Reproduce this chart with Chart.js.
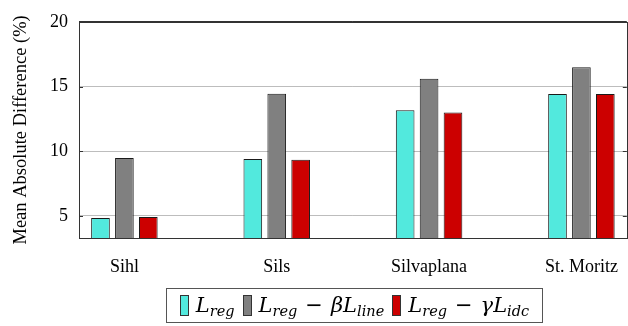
<!DOCTYPE html>
<html>
<head>
<meta charset="utf-8">
<script src="https://cdn.jsdelivr.net/npm/chart.js@4.4.1/dist/chart.umd.min.js"></script>
<style>
  html, body { margin: 0; padding: 0; background: #fff; }
  #wrap { position: relative; width: 628px; height: 326px; }
  #chart { position: absolute; left: 0; top: 0; }
  #legend {
    position: absolute; left: 166px; top: 288px; width: 377px; height: 35px;
    border: 1px solid #555; box-sizing: border-box;
    display: flex; align-items: center; justify-content: center;
    font-family: "DejaVu Serif", "Liberation Serif", serif; font-size: 21px; color: #000;
  }
  .item { display: flex; align-items: center; margin: 0 4px; white-space: nowrap; }
  .sw { width: 7px; height: 19px; border: 1px solid #333; margin-right: 7px; }
  .lbl i { font-style: italic; }
  .lbl sub { font-size: 14.5px; font-style: italic; vertical-align: -4px; }
  .op { margin: 0 8px; font-family: "DejaVu Sans", sans-serif; }
</style>
</head>
<body>
<div id="wrap">
  <canvas id="chart" width="628" height="326"></canvas>
  <div id="legend"></div>
</div>
<script>
// Lakes / sites on the x axis
const categories = ['Sihl', 'Sils', 'Silvaplana', 'St. Moritz'];

// Mean absolute difference (%) per loss configuration
const regValues = [4.85, 9.4, 13.16, 14.43];
const lineValues = [9.47, 14.45, 15.6, 16.49];
const idcValues = [4.92, 9.35, 13.0, 14.43];

// Legend labels (math notation)
const seriesNames = [
  '<i>L</i><sub>reg</sub>',
  '<i>L</i><sub>reg</sub><span class="op">\u2212</span><i>\u03B2L</i><sub>line</sub>',
  '<i>L</i><sub>reg</sub><span class="op">\u2212</span><i>\u03B3L</i><sub>idc</sub>'
];
const seriesColors = ['#52e9dd', '#808080', '#cc0000'];

const yTicks = [5, 10, 15, 20];
const yMin = 3.3;
const yMax = 20;

const serif = '"Liberation Serif", "DejaVu Serif", serif';

const toPoints = vals => vals.map((v, i) => ({ x: i, y: v }));
const seriesValues = [regValues, lineValues, idcValues];

const datasets = seriesValues.map((vals, k) => ({
  label: seriesNames[k],
  data: toPoints(vals),
  backgroundColor: seriesColors[k],
  borderColor: '#1a1a1a',
  borderWidth: 1,
  borderSkipped: 'start',
  categoryPercentage: 0.471,
  barPercentage: 0.78
}));

// Closed axis box around the plot area
const frame = {
  id: 'frame',
  afterDraw(chart) {
    const { ctx, chartArea: a } = chart;
    ctx.save();
    ctx.strokeStyle = '#333';
    ctx.lineWidth = 1;
    ctx.strokeRect(Math.round(a.left) + 0.5, Math.round(a.top) + 0.5,
                   Math.round(a.right - a.left), Math.round(a.bottom - a.top));
    // short tick marks on left and right sides
    const y = chart.scales.y;
    yTicks.forEach(t => {
      if (t >= yMax) return;
      const py = Math.round(y.getPixelForValue(t)) + 0.5;
      ctx.beginPath();
      ctx.moveTo(a.left, py); ctx.lineTo(a.left + 4, py);
      ctx.moveTo(a.right - 4, py); ctx.lineTo(a.right, py);
      ctx.stroke();
    });
    ctx.restore();
  }
};

new Chart(document.getElementById('chart'), {
  type: 'bar',
  data: { datasets },
  plugins: [frame],
  options: {
    responsive: false,
    animation: false,
    layout: { padding: { top: 17, right: 1, left: 0, bottom: 0 } },
    plugins: { legend: { display: false }, tooltip: { enabled: false } },
    scales: {
      x: {
        type: 'linear',
        offset: false,
        min: -0.298,
        max: 3.298,
        grid: { display: false, offset: false },
        border: { display: false },
        afterBuildTicks(scale) { scale.ticks = categories.map((c, i) => ({ value: i })); },
        afterFit(scale) { scale.height = 88; },
        ticks: {
          autoSkip: false,
          maxRotation: 0,
          padding: 10,
          color: '#000',
          font: { family: serif, size: 18 },
          callback: v => categories[v]
        }
      },
      y: {
        min: yMin,
        max: yMax,
        afterBuildTicks(scale) { scale.ticks = yTicks.map(v => ({ value: v })); },
        afterFit(scale) { scale.width = 79; },
        border: { display: false },
        grid: {
          drawTicks: false,
          color: ctx => ctx.tick && ctx.tick.value === yMax ? '#333' : '#bdbdbd',
          lineWidth: 1
        },
        ticks: {
          padding: 11,
          color: '#000',
          font: { family: serif, size: 18 }
        },
        title: {
          display: true,
          text: 'Mean Absolute Difference (%)',
          color: '#000',
          font: { family: serif, size: 18.5 },
          padding: { top: 10, bottom: 0 }
        }
      }
    }
  }
});

// HTML legend with subscripted labels
const legend = document.getElementById('legend');
datasets.forEach(ds => {
  const item = document.createElement('div');
  item.className = 'item';
  const sw = document.createElement('div');
  sw.className = 'sw';
  sw.style.background = ds.backgroundColor;
  const lbl = document.createElement('span');
  lbl.className = 'lbl';
  lbl.innerHTML = ds.label;
  item.appendChild(sw);
  item.appendChild(lbl);
  legend.appendChild(item);
});
</script>
</body>
</html>
